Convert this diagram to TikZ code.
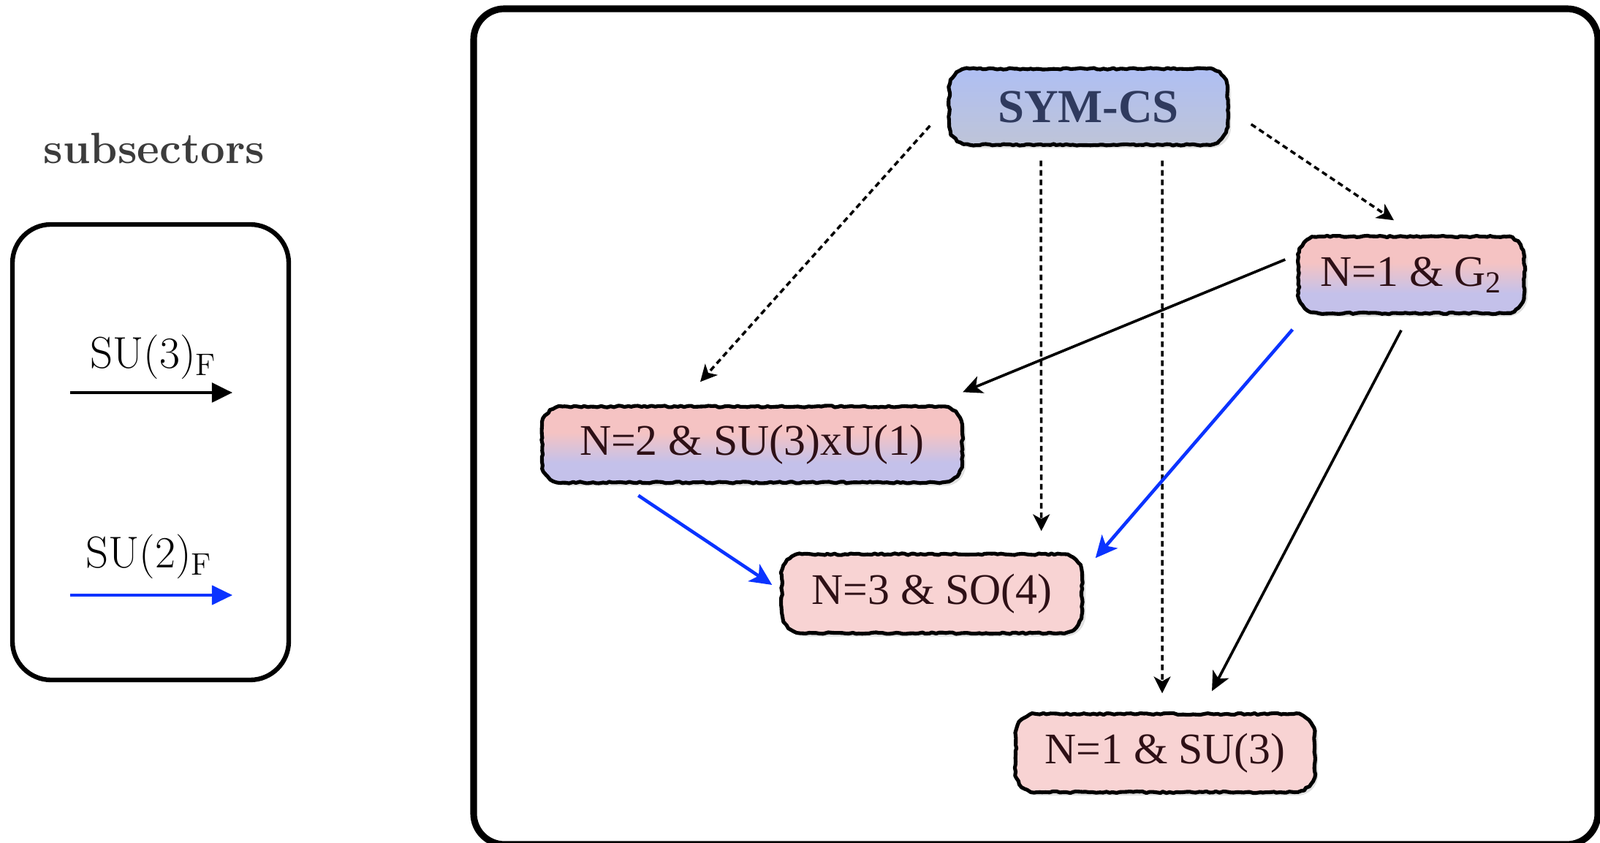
\documentclass[tikz,border=0pt]{standalone}
\usepackage{fontspec}
\newfontfamily\tnr{Liberation Serif}
\usetikzlibrary{arrows.meta,calc,decorations.pathmorphing,shadows}
\definecolor{symtop}{HTML}{AFBFF3}
\definecolor{symbot}{HTML}{BEC4D8}
\definecolor{pinktop}{HTML}{F5C3C3}
\definecolor{lavbot}{HTML}{C4C1EA}
\definecolor{pinkfill}{HTML}{F8D3D3}
\definecolor{navytext}{HTML}{2F3A5E}
\definecolor{maroontext}{HTML}{2E1016}
\definecolor{arrblue}{HTML}{0A33FF}
\definecolor{subgray}{HTML}{3C3C3C}
\pgfdeclareverticalshading{pinklav}{100bp}{color(0bp)=(lavbot); color(38bp)=(lavbot); color(58bp)=(pinktop); color(100bp)=(pinktop)}
\tikzset{
  box/.style={rounded corners=8pt, inner sep=0pt, align=center,
    font=\tnr\fontsize{17}{20}\selectfont, text=maroontext,
    general shadow={shadow xshift=1.3pt, shadow yshift=-1.3pt, fill=black, opacity=0.12},
    postaction={draw=black, line width=1.45pt, sharp corners, line join=round, line cap=round, decorate,
      decoration={random steps, segment length=1.3pt, amplitude=0.32pt}}},
  gradbox/.style={box, shading=pinklav},
  plainbox/.style={box, fill=pinkfill},
  dotarrow/.style={line width=1pt, dash pattern=on 2.2pt off 1.5pt, -{Stealth[length=6.5pt,width=6.5pt,inset=1.8pt]}},
  blackarrow/.style={line width=1.05pt, -{Stealth[length=7.5pt,width=7pt,inset=2pt]}},
  bluearrow/.style={arrblue, line width=1.3pt, -{Stealth[length=8.5pt,width=8pt,inset=2.2pt]}},
  legendarrow/.style={-{Triangle[length=8pt,width=7.5pt]}},
  legtext/.style={font=\fontsize{17.3}{20}\selectfont, anchor=base, inner sep=0pt}
}
\begin{document}
\begin{tikzpicture}
\useasboundingbox (0,0) rectangle (21.89,11.52);
\clip (0,0) rectangle (21.89,11.52);

% main frame
\draw[line width=2.6pt, rounded corners=12pt] (6.48,-0.03) rectangle (21.86,11.40);

% legend
\node[font=\bfseries\fontsize{17}{20}\selectfont, text=subgray, anchor=base, inner sep=0pt] (subs) at (2.11,9.28) {subsectors};
\draw[line width=1.8pt, rounded corners=15pt] (0.17,2.22) rectangle (3.95,8.45);
\node[legtext] (su3) at (2.10,6.48) {$\mathrm{SU(3)_F}$};
\node[legtext] (su2) at (2.04,3.75) {$\mathrm{SU(2)_F}$};
\coordinate (la1) at (0.96,6.15);
\coordinate (lb1) at (3.18,6.15);
\coordinate (la2) at (0.96,3.38);
\coordinate (lb2) at (3.18,3.38);
\draw[legendarrow, line width=1.25pt] (la1) -- (lb1);
\draw[legendarrow, arrblue, line width=1pt] (la2) -- (lb2);

% nodes
\node[box, top color=symtop, bottom color=symbot, minimum width=3.81cm, minimum height=1.04cm,
      text=navytext, font=\tnr\bfseries\fontsize{18.4}{22}\selectfont] (sym) at (14.89,10.06) {SYM-CS};
\node[gradbox, minimum width=3.09cm, minimum height=1.05cm] (g2) at (19.31,7.76) {N=1 \& G\textsubscript{2}};
\node[gradbox, minimum width=5.75cm, minimum height=1.04cm] (n2) at (10.29,5.44) {N=2 \& SU(3)xU(1)};
\node[plainbox, minimum width=4.11cm, minimum height=1.08cm] (n3) at (12.75,3.40) {N=3 \& SO(4)};
\node[plainbox, minimum width=4.09cm, minimum height=1.07cm] (n1) at (15.94,1.22) {N=1 \& SU(3)};

% dotted arrows
\draw[dotarrow] ($(sym.west)+(-0.255,-0.26)$) -- ($(n2.north)+(-0.71,0.33)$);
\draw[dotarrow] ($(sym.south)+(-0.65,-0.21)$) -- ($(n3.north east)+(-0.565,0.31)$);
\draw[dotarrow] ($(sym.south)+(1.01,-0.21)$) -- ($(n1.north)+(-0.04,0.275)$);
\draw[dotarrow] ($(sym.east)+(0.315,-0.24)$) -- ($(g2.north)+(-0.24,0.215)$);

% solid arrows
\draw[blackarrow] ($(g2.west)+(-0.175,0.21)$) -- ($(n2.north east)+(0,0.19)$);
\draw[blackarrow] ($(g2.south)+(-0.14,-0.225)$) -- ($(n1.north)+(0.64,0.305)$);
\draw[bluearrow] ($(g2.south west)+(-0.075,-0.215)$) -- ($(n3.north east)+(0.175,-0.06)$);
\draw[bluearrow] ($(n2.south west)+(1.325,-0.17)$) -- ($(n3.west)+(-0.125,0.12)$);
\end{tikzpicture}
\end{document}
